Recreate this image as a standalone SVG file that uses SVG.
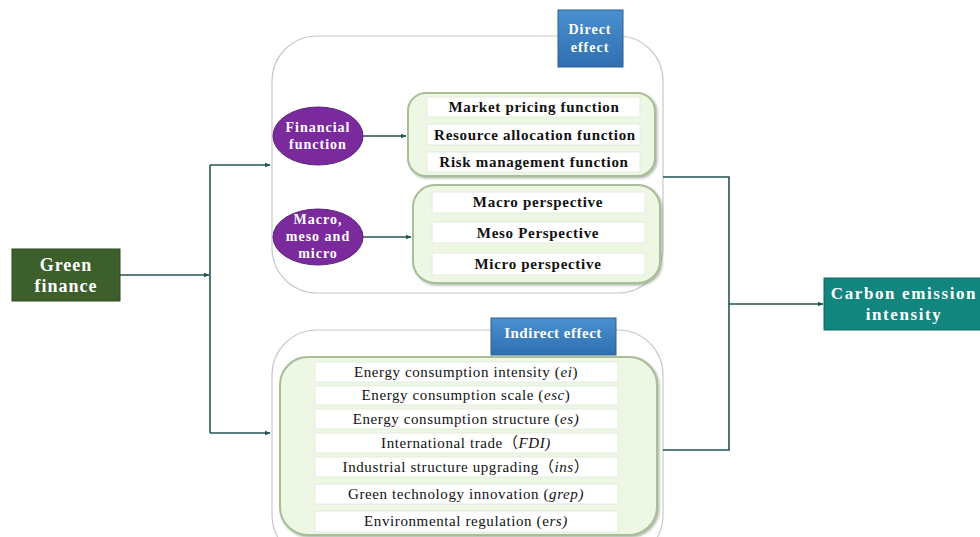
<svg xmlns="http://www.w3.org/2000/svg" width="980" height="537" viewBox="0 0 980 537">
<defs>
<style>
.outer{fill:#fff;stroke:#c8c8c8;stroke-width:1.2}
.grp{fill:#eef7e4;stroke:#a9bd98;stroke-width:2}
.row{fill:#fff;stroke:#e4ece0;stroke-width:1}
.conn{fill:none;stroke:#245353;stroke-width:1.6}
.wt{font-family:"Liberation Serif",serif;font-weight:bold;fill:#fff;text-anchor:middle}
.bt{font-family:"Liberation Serif",serif;font-weight:bold;font-size:15px;letter-spacing:0.7px;fill:#111;text-anchor:middle}
.rt{font-family:"Liberation Serif",serif;font-size:15px;letter-spacing:0.6px;fill:#111;text-anchor:middle}
.ell{fill:#7a2a9c;stroke:#5c1f78;stroke-width:1}
.et{font-size:14px;letter-spacing:1px}
</style>
<marker id="ah" viewBox="0 0 10 10" refX="9" refY="5" markerWidth="6" markerHeight="6" orient="auto" markerUnits="userSpaceOnUse">
<path d="M0,1 L10,5 L0,9 z" fill="#245353"/>
</marker>
<filter id="sh" x="-5%" y="-5%" width="115%" height="115%">
<feDropShadow dx="1.5" dy="1.5" stdDeviation="1" flood-color="#7a8a70" flood-opacity="0.6"/>
</filter>
<linearGradient id="blue" x1="0" y1="0" x2="0" y2="1">
<stop offset="0" stop-color="#4a90d0"/>
<stop offset="1" stop-color="#2f6fb0"/>
</linearGradient>
</defs>

<g id="direct-group">
<rect class="outer" x="272" y="36" width="391" height="257" rx="45"/>
</g>
<g id="indirect-group">
<rect class="outer" x="272" y="330" width="391" height="230" rx="45"/>
</g>

<g id="connectors">
<line class="conn" x1="120" y1="275" x2="209" y2="275" marker-end="url(#ah)"/>
<line class="conn" x1="210" y1="165" x2="210" y2="433"/>
<line class="conn" x1="210" y1="165" x2="270" y2="165" marker-end="url(#ah)"/>
<line class="conn" x1="210" y1="433" x2="270" y2="433" marker-end="url(#ah)"/>
<line class="conn" x1="363" y1="136" x2="406" y2="136" marker-end="url(#ah)"/>
<line class="conn" x1="363" y1="237" x2="411" y2="237" marker-end="url(#ah)"/>
<polyline class="conn" points="663,177 729,177 729,450 663,450"/>
<line class="conn" x1="729" y1="304" x2="823" y2="304" marker-end="url(#ah)"/>
</g>

<g id="green-finance">
<rect x="12" y="249" width="108" height="52" fill="#3d5f2b" stroke="#2d4a1e" stroke-width="1"/>
<text class="wt" x="66" y="271" font-size="18" letter-spacing="1">Green</text>
<text class="wt" x="66" y="292" font-size="18" letter-spacing="1">finance</text>
</g>

<g id="direct-effect-label">
<rect x="558" y="10" width="65" height="57" fill="url(#blue)" stroke="#2a5f96" stroke-width="1"/>
<text class="wt et" x="590" y="34">Direct</text>
<text class="wt et" x="590" y="52">effect</text>
</g>

<g id="financial-function">
<ellipse class="ell" cx="318" cy="136" rx="45" ry="29"/>
<text class="wt et" x="318" y="132">Financial</text>
<text class="wt et" x="318" y="149">function</text>
</g>

<g id="functions">
<rect class="grp" x="408" y="93" width="247" height="83" rx="18" filter="url(#sh)"/>
<rect class="row" x="427" y="97" width="213" height="20"/>
<rect class="row" x="427" y="124" width="213" height="21"/>
<rect class="row" x="427" y="152" width="213" height="20"/>
<text class="bt" x="534" y="112">Market pricing function</text>
<text class="bt" x="535" y="140">Resource allocation function</text>
<text class="bt" x="534" y="167">Risk management function</text>
</g>

<g id="macro-meso-micro">
<ellipse class="ell" cx="318" cy="237" rx="45" ry="28"/>
<text class="wt et" x="318" y="224">Macro,</text>
<text class="wt et" x="318" y="241">meso and</text>
<text class="wt et" x="318" y="258">micro</text>
</g>

<g id="perspectives">
<rect class="grp" x="413" y="185" width="247" height="98" rx="22" filter="url(#sh)"/>
<rect class="row" x="432" y="192" width="213" height="21"/>
<rect class="row" x="432" y="222" width="213" height="21"/>
<rect class="row" x="432" y="253" width="213" height="22"/>
<text class="bt" x="538" y="207">Macro perspective</text>
<text class="bt" x="538" y="238">Meso Perspective</text>
<text class="bt" x="538" y="269">Micro perspective</text>
</g>

<g id="indirect-effect-label">
<rect x="491" y="318" width="125" height="37" fill="url(#blue)" stroke="#2a5f96" stroke-width="1"/>
<text class="wt" x="553" y="338" font-size="15" letter-spacing="0.5">Indirect effect</text>
</g>

<g id="channels">
<rect class="grp" x="280" y="357" width="377" height="178" rx="28" filter="url(#sh)"/>
<rect class="row" x="315" y="362" width="303" height="20"/>
<rect class="row" x="315" y="386" width="303" height="19"/>
<rect class="row" x="315" y="409" width="303" height="20"/>
<rect class="row" x="315" y="433" width="303" height="20"/>
<rect class="row" x="315" y="457" width="303" height="20"/>
<rect class="row" x="315" y="484" width="303" height="20"/>
<rect class="row" x="315" y="511" width="303" height="21"/>
<text class="rt" x="466" y="377">Energy consumption intensity (<tspan font-style="italic">ei</tspan>)</text>
<text class="rt" x="466" y="400">Energy consumption scale (<tspan font-style="italic">esc</tspan>)</text>
<text class="rt" x="466" y="424">Energy consumption structure (<tspan font-style="italic">es)</tspan></text>
<text class="rt" x="466" y="448">International trade<tspan font-family="Noto Sans CJK SC,sans-serif">（</tspan><tspan font-style="italic">FDI)</tspan></text>
<text class="rt" x="466" y="472">Industrial structure upgrading<tspan font-family="Noto Sans CJK SC,sans-serif">（</tspan><tspan font-style="italic">ins</tspan><tspan font-family="Noto Sans CJK SC,sans-serif">）</tspan></text>
<text class="rt" x="466" y="499">Green technology innovation (<tspan font-style="italic">grep)</tspan></text>
<text class="rt" x="466" y="526">Environmental regulation (e<tspan font-style="italic">rs)</tspan></text>
</g>

<g id="carbon-emission-intensity">
<rect x="824" y="278" width="170" height="52" fill="#13857f" stroke="#0d6560" stroke-width="1"/>
<text class="wt" x="904" y="299" font-size="17" letter-spacing="1.6">Carbon emission</text>
<text class="wt" x="904" y="320" font-size="17" letter-spacing="1.6">intensity</text>
</g>
</svg>
